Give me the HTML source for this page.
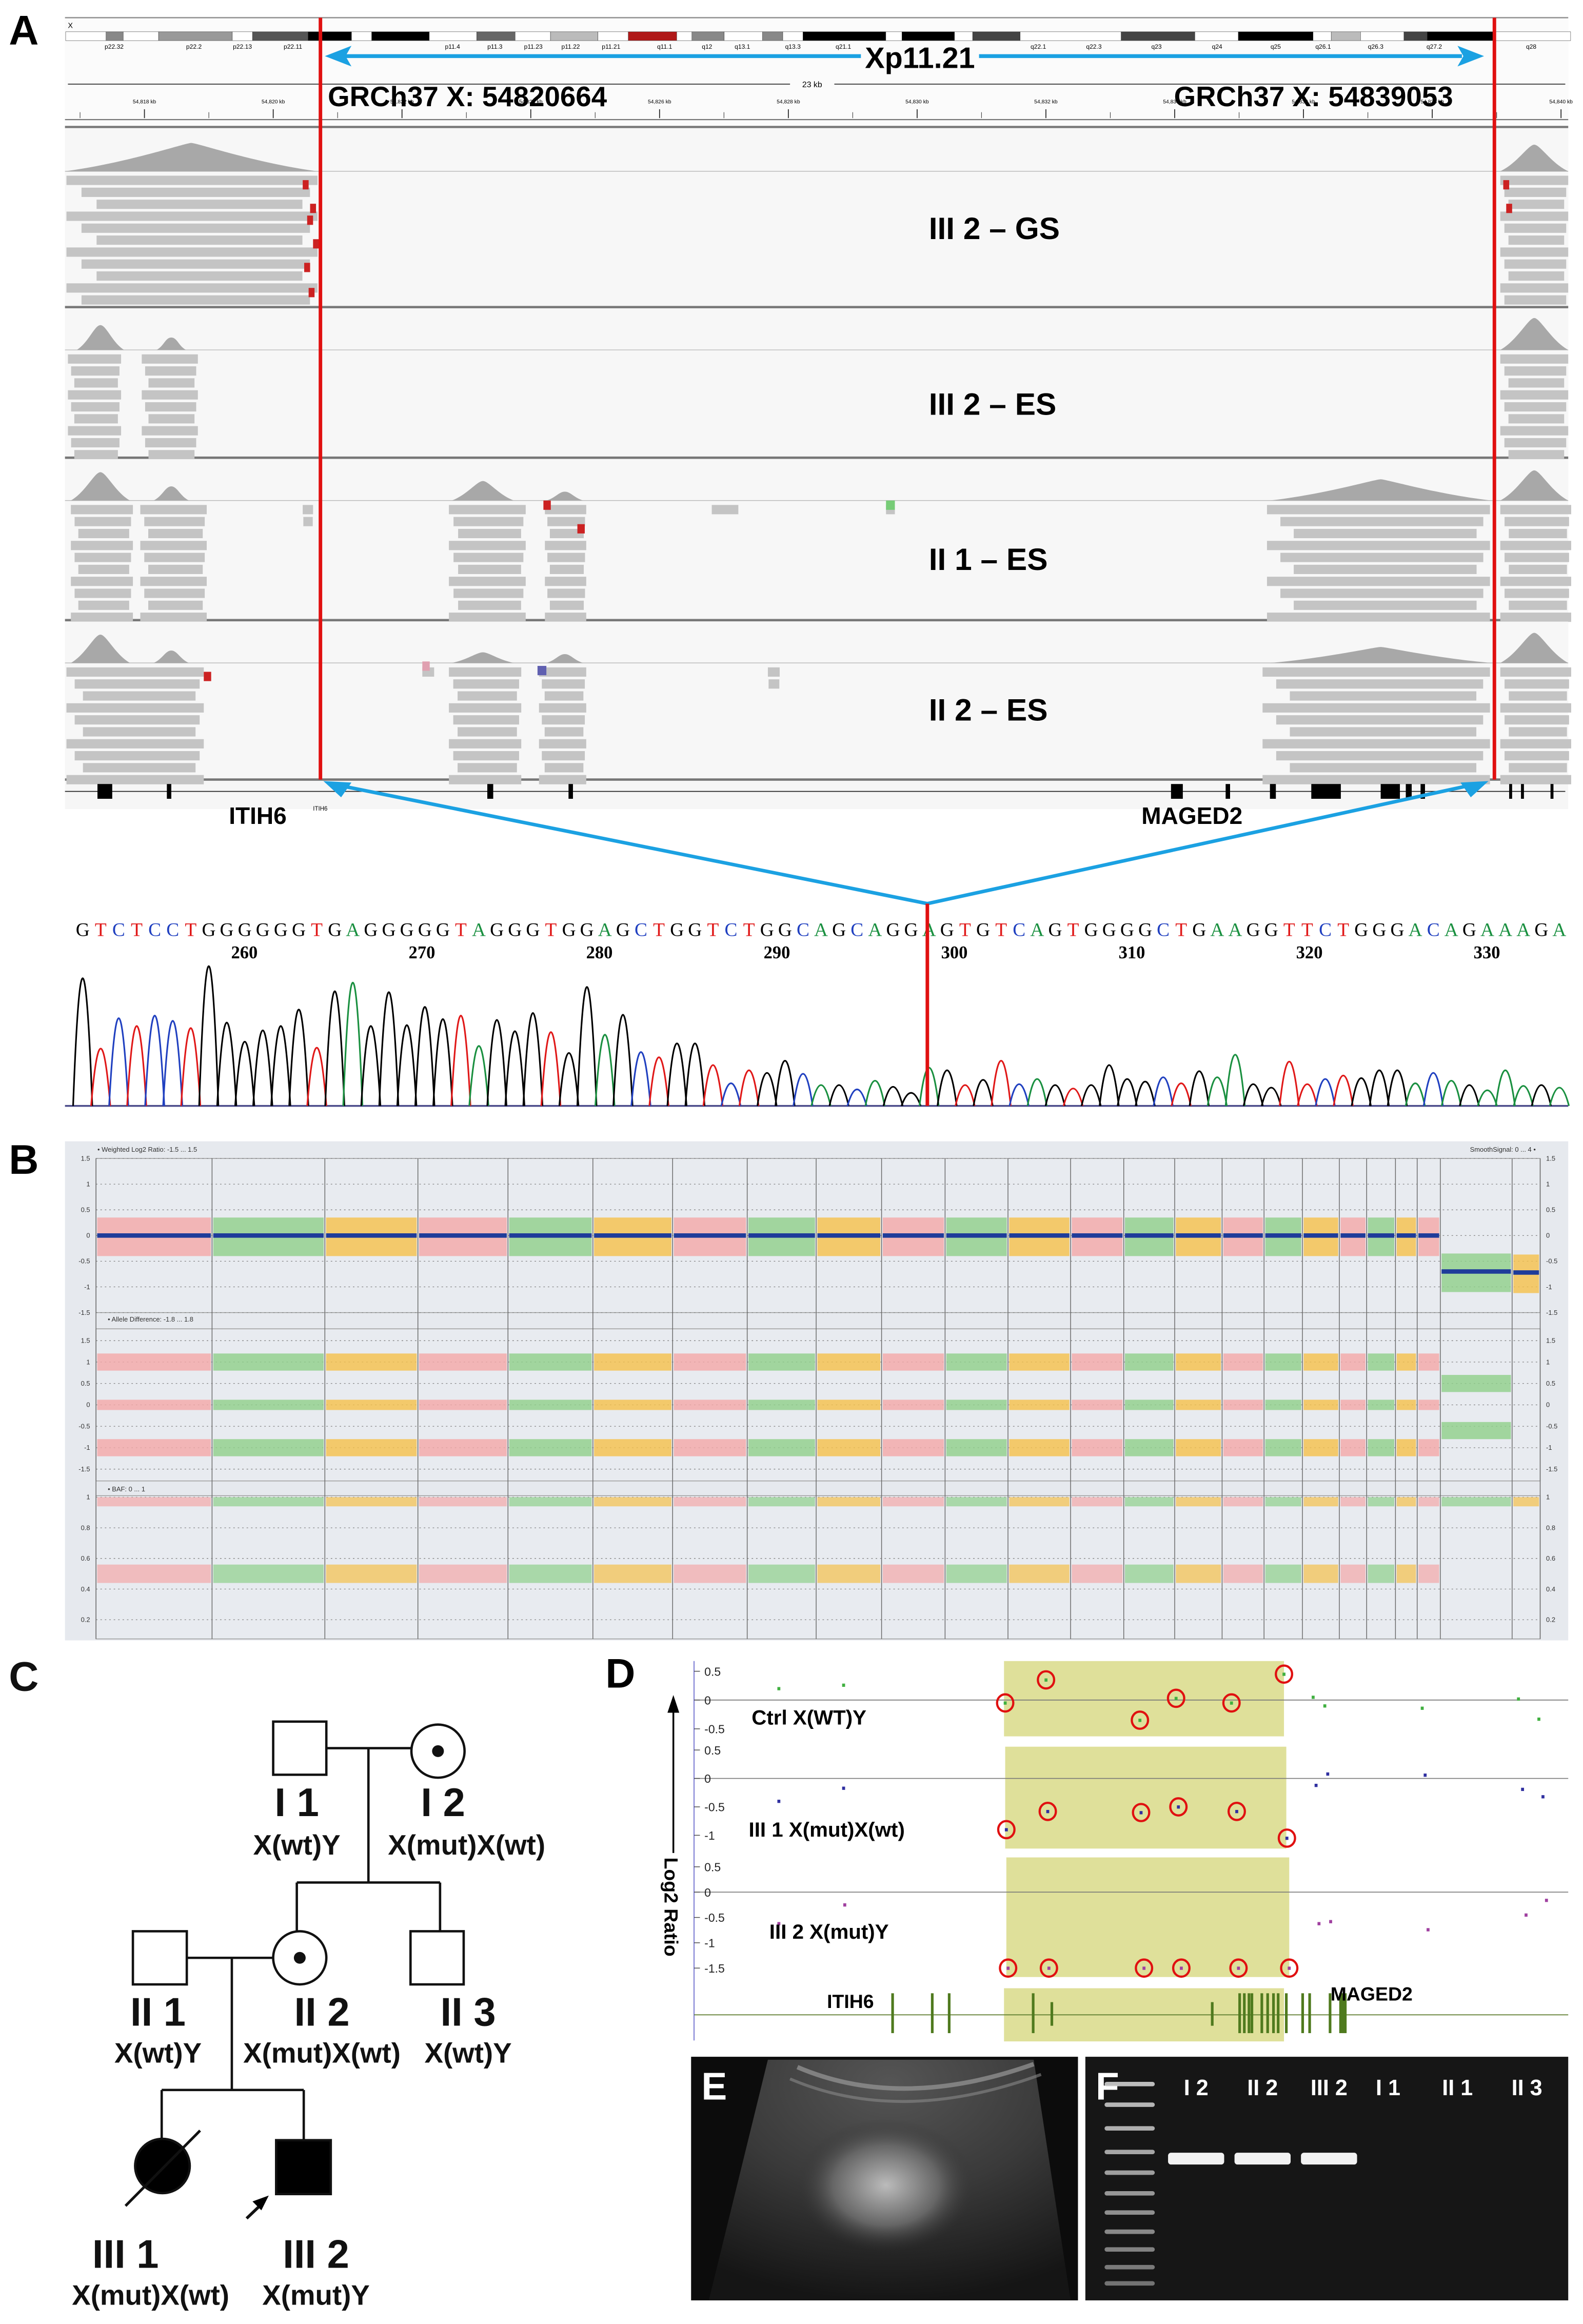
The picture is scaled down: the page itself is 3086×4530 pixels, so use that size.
<!DOCTYPE html>
<html><head><meta charset="utf-8">
<style>
html,body{margin:0;padding:0;background:#fff;}
svg{display:block;}
.lbl{font-family:"Liberation Sans",sans-serif;font-weight:bold;}
.nar{font-family:"Liberation Sans Narrow","Liberation Sans",sans-serif;font-weight:bold;}
</style></head>
<body>
<svg id="fig" width="3086" height="4530" viewBox="0 0 1072 1574" preserveAspectRatio="none" xmlns="http://www.w3.org/2000/svg">
<!-- PANEL A -->
<g id="panelA">
<text class="lbl" x="6" y="30" font-size="28">A</text>
<rect x="44" y="11" width="1018" height="537" fill="#f6f6f6"/>
<rect x="44" y="11" width="1018" height="75" fill="#fbfbfb"/>
<line x1="44" y1="12" x2="1062" y2="12" stroke="#888" stroke-width="0.8"/>
<text x="46" y="19" font-size="5" font-family="Liberation Sans">X</text>
<g id="ideo"></g>
<g id="bandLabels"></g>
<line x1="46" y1="57" x2="1060" y2="57" stroke="#333" stroke-width="0.6"/>
<rect x="535" y="53" width="30" height="8" fill="#fbfbfb"/>
<text x="550" y="59" font-size="5.5" text-anchor="middle" font-family="Liberation Sans">23 kb</text>
<g id="ruler"></g>
<line x1="44" y1="81" x2="1062" y2="81" stroke="#777" stroke-width="0.8"/>
<line x1="44" y1="86" x2="1062" y2="86" stroke="#777" stroke-width="1.5"/>
<g id="tracks"></g>
<line x1="44" y1="536" x2="1060" y2="536" stroke="#222" stroke-width="0.6"/>
<g id="exons"></g>
<text class="nar" x="629" y="162" font-size="21">III 2 – GS</text>
<text class="nar" x="629" y="281" font-size="21">III 2 – ES</text>
<text class="nar" x="629" y="386" font-size="21">II 1  – ES</text>
<text class="nar" x="629" y="488" font-size="21">II 2  – ES</text>
<line x1="217" y1="12" x2="217" y2="528" stroke="#e01010" stroke-width="2.4"/>
<line x1="1012" y1="12" x2="1012" y2="528" stroke="#e01010" stroke-width="2.4"/>
<rect x="583" y="29" width="80" height="18" fill="#fbfbfb"/>
<line x1="232" y1="38" x2="583" y2="38" stroke="#1ba1e2" stroke-width="2.6"/>
<polygon points="220,38 238,31 234,38 238,45" fill="#1ba1e2"/>
<line x1="663" y1="38" x2="990" y2="38" stroke="#1ba1e2" stroke-width="2.6"/>
<polygon points="1005,38 987,31 991,38 987,45" fill="#1ba1e2"/>
<text class="nar" x="623" y="46" font-size="20" text-anchor="middle">Xp11.21</text>
<text class="nar" x="222" y="72" font-size="19">GRCh37 X: 54820664</text>
<text class="nar" x="795" y="72" font-size="19">GRCh37 X: 54839053</text>
<text class="nar" x="155" y="558" font-size="16">ITIH6</text>
<text x="212" y="549" font-size="4" font-family="Liberation Sans">ITIH6</text>
<text class="nar" x="773" y="558" font-size="16">MAGED2</text>
<line x1="628" y1="612" x2="230" y2="532" stroke="#1ba1e2" stroke-width="2.4"/>
<polygon points="219,529 238,530 231,540" fill="#1ba1e2"/>
<line x1="628" y1="612" x2="995" y2="532" stroke="#1ba1e2" stroke-width="2.4"/>
<polygon points="1008,529 989,530 996,540" fill="#1ba1e2"/>
<g id="seq"></g>
<g id="seqnums"></g>
<line x1="44" y1="749" x2="1062" y2="749" stroke="#4a4a8a" stroke-width="1.2"/>
<g id="chromat"></g>
<line x1="628" y1="612" x2="628" y2="749" stroke="#e01010" stroke-width="2.4"/>
</g>

<!-- PANEL B -->
<g id="panelB">
<text class="lbl" x="6" y="795" font-size="28">B</text>
<rect x="44" y="773" width="1018" height="338" fill="#e6e9ee"/>
<text x="66" y="780" font-size="4.5" font-family="Liberation Sans" fill="#333">• Weighted Log2 Ratio: -1.5 ... 1.5</text>
<text x="1040" y="780" font-size="4.5" font-family="Liberation Sans" fill="#333" text-anchor="end">SmoothSignal: 0 ... 4 •</text>
<text x="73" y="895" font-size="4.5" font-family="Liberation Sans" fill="#333">• Allele Difference: -1.8 ... 1.8</text>
<text x="73" y="1010" font-size="4.5" font-family="Liberation Sans" fill="#333">• BAF: 0 ... 1</text>
<g id="cnv"></g>
</g>

<!-- PANEL C -->
<g id="panelC" stroke="#111" stroke-width="1.6" fill="none">
<text class="lbl" x="6" y="1145" font-size="28" stroke="none" fill="#111">C</text>
<rect x="185" y="1166" width="36" height="36" fill="#fff"/>
<circle cx="296.6" cy="1186" r="18" fill="#fff"/>
<circle cx="296.6" cy="1186" r="4" fill="#111" stroke="none"/>
<line x1="221" y1="1184" x2="278.6" y2="1184"/>
<line x1="249.5" y1="1184" x2="249.5" y2="1275"/>
<line x1="201" y1="1275" x2="298" y2="1275"/>
<line x1="201" y1="1275" x2="201" y2="1308"/>
<line x1="298" y1="1275" x2="298" y2="1308"/>
<rect x="90" y="1308" width="36.5" height="36" fill="#fff"/>
<circle cx="203" cy="1326" r="18" fill="#fff"/>
<circle cx="203" cy="1326" r="4" fill="#111" stroke="none"/>
<rect x="278" y="1308" width="36" height="36" fill="#fff"/>
<line x1="126.5" y1="1326" x2="185" y2="1326"/>
<line x1="157" y1="1326" x2="157" y2="1415.5"/>
<line x1="109.5" y1="1415.5" x2="205.7" y2="1415.5"/>
<line x1="109.5" y1="1415.5" x2="109.5" y2="1449"/>
<line x1="205.7" y1="1415.5" x2="205.7" y2="1449.5"/>
<ellipse cx="110" cy="1467" rx="18.5" ry="18.4" fill="#000"/>
<line x1="85" y1="1494" x2="135.5" y2="1443" stroke-width="1.8"/>
<rect x="187" y="1449.5" width="37" height="36.5" fill="#000"/>
<line x1="167" y1="1502.5" x2="178" y2="1492" stroke-width="2"/>
<polygon points="182,1487 171,1491 177,1497" fill="#000" stroke="none"/>
<g class="lbl" stroke="none" fill="#111" text-anchor="middle">
<text x="201" y="1230" font-size="27">I 1</text>
<text x="201" y="1256" font-size="19">X(wt)Y</text>
<text x="300" y="1230" font-size="27">I 2</text>
<text x="316" y="1256" font-size="19">X(mut)X(wt)</text>
<text x="107" y="1372" font-size="27">II 1</text>
<text x="107" y="1397" font-size="19">X(wt)Y</text>
<text x="218" y="1372" font-size="27">II 2</text>
<text x="218" y="1397" font-size="19">X(mut)X(wt)</text>
<text x="317" y="1372" font-size="27">II 3</text>
<text x="317" y="1397" font-size="19">X(wt)Y</text>
<text x="85" y="1536" font-size="27">III 1</text>
<text x="102" y="1561" font-size="19">X(mut)X(wt)</text>
<text x="214" y="1536" font-size="27">III 2</text>
<text x="214" y="1561" font-size="19">X(mut)Y</text>
</g>
</g>

<!-- PANEL D -->
<g id="panelD">
<text class="lbl" x="410" y="1143" font-size="28">D</text>
<line x1="470" y1="1125" x2="470" y2="1382" stroke="#6666cc" stroke-width="0.6"/>
<line x1="456" y1="1255" x2="456" y2="1158" stroke="#000" stroke-width="1.2"/>
<polygon points="456,1148 452,1160 460,1160" fill="#000"/>
<text class="lbl" x="0" y="0" font-size="13" transform="translate(450,1258) rotate(90)">Log2 Ratio</text>
<g id="dplot"></g>
</g>

<!-- PANEL E -->
<g id="panelE">
<rect x="468" y="1393" width="262" height="165" fill="#0c0c0c"/>
<defs>
<radialGradient id="usg" cx="0.5" cy="0.1" r="0.9">
<stop offset="0" stop-color="#555"/><stop offset="0.5" stop-color="#3a3a3a"/><stop offset="1" stop-color="#151515"/>
</radialGradient>
<radialGradient id="kid" cx="0.5" cy="0.5" r="0.5">
<stop offset="0" stop-color="#bbb"/><stop offset="0.6" stop-color="#666"/><stop offset="1" stop-color="#333" stop-opacity="0"/>
</radialGradient>
</defs>
<path d="M520,1395 L700,1395 L725,1558 L480,1558 Z" fill="url(#usg)"/>
<path d="M540,1400 Q610,1430 700,1398" stroke="#999" stroke-width="3" fill="none" opacity="0.7"/>
<path d="M535,1408 Q610,1440 705,1405" stroke="#888" stroke-width="2" fill="none" opacity="0.6"/>
<ellipse cx="600" cy="1480" rx="60" ry="45" fill="url(#kid)"/>
<text class="lbl" x="475" y="1422" font-size="26" fill="#fff">E</text>
</g>

<!-- PANEL F -->
<g id="panelF">
<rect x="735" y="1393" width="327" height="165" fill="#161616"/>
<text class="lbl" x="742" y="1422" font-size="26" fill="#fff">F</text>
<g id="gel"></g>
</g>
</svg>

<script>
var NS = "http://www.w3.org/2000/svg";
function mk(tag, attrs, parent) {
  var e = document.createElementNS(NS, tag);
  for (var k in attrs) e.setAttribute(k, attrs[k]);
  parent.appendChild(e);
  return e;
}

// ---------- Panel A: ideogram ----------
var ideoStarts = [65,105,122,157,230,250,305,348,368,425,472,510,545,592,622,670,685,717,755,775,795,877,893,945,963,1010,1110,1183,1226,1300,1318,1347,1390,1413,1480];
var ideoShades = ["#fff","#888","#fff","#999","#fff","#555","#000","#fff","#000","#fff","#666","#fff","#bbb","#fff","#b01818","#fff","#888","#fff","#888","#fff","#000","#fff","#000","#fff","#444","#fff","#444","#fff","#000","#fff","#bbb","#fff","#444","#000","#fff"];
var ideoEnd = 1555;
var ideoG = document.getElementById("ideo");
for (var i = 0; i < ideoStarts.length; i++) {
  var x1 = ideoStarts[i] * 0.684, x2 = (i + 1 < ideoStarts.length ? ideoStarts[i + 1] : ideoEnd) * 0.684;
  var ib = mk("rect", {x: x1, y: 21.5, width: x2 - x1, height: 6, fill: ideoShades[i], stroke: "#333", "stroke-width": 0.2}, ideoG);
  
  
}
var bandNames = ["p22.32","p22.2","p22.13","p22.11","p11.4","p11.3","p11.23","p11.22","p11.21","q11.1","q12","q13.1","q13.3","q21.1","q21.2","q21.32","q22.1","q22.3","q23","q24","q25","q26.1","q26.3","q27.2","q28"];
var bandLabelX = [113,192,240,290,448,490,528,565,605,658,700,735,785,835,885,955,1028,1083,1145,1205,1263,1310,1362,1420,1516];
var blG = document.getElementById("bandLabels");
for (var i = 0; i < bandNames.length; i++) {
  var t = mk("text", {x: bandLabelX[i] * 0.684, y: 33, "font-size": 4.2, "text-anchor": "middle", "font-family": "Liberation Sans"}, blG);
  t.textContent = bandNames[i];
  
  
}
var kbLabels = ["54,818 kb","54,820 kb","54,822 kb","54,824 kb","54,826 kb","54,828 kb","54,830 kb","54,832 kb","54,834 kb","54,836 kb","54,838 kb","54,840 kb"];
var rG = document.getElementById("ruler");
for (var i = 0; i < kbLabels.length; i++) {
  var x = (143 + i * 127.5) * 0.684;
  var t = mk("text", {x: x, y: 70, "font-size": 3.6, "text-anchor": "middle", "font-family": "Liberation Sans"}, rG);
  t.textContent = kbLabels[i];
  
  
  mk("line", {x1: x, y1: 74, x2: x, y2: 80, stroke: "#222", "stroke-width": 0.6}, rG);
  mk("line", {x1: x - 43.6, y1: 76, x2: x - 43.6, y2: 80, stroke: "#444", "stroke-width": 0.4}, rG);
}

// ---------- Panel A: alignment tracks ----------
var trackTops = [88, 209, 311, 421];
var trackBottoms = [207, 309, 419, 527];
var covH = 24;
var cov0 = [[44,215,0.8],[1016,1062,0.75]];
var cov1 = [[52,84,0.7],[106,126,0.35],[1016,1062,0.9]];
var cov2 = [[48,88,0.8],[104,128,0.4],[306,348,0.55],[370,395,0.25],[860,1010,0.6],[1016,1062,0.85]];
var cov3 = [[48,88,0.8],[104,128,0.35],[306,348,0.3],[370,395,0.25],[860,1010,0.45],[1016,1062,0.85]];
var covs = [cov0, cov1, cov2, cov3];
var reads0 = [[45,215,11],[1016,1062,11]];
var reads1 = [[46,82,9],[96,134,9],[1016,1062,9]];
var reads2 = [[48,90,10],[95,140,10],[205,212,2],[304,356,10],[369,397,10],[482,500,1],[600,606,1],[858,1009,10],[1016,1064,10]];
var reads3 = [[45,138,10],[286,294,1],[304,353,10],[365,397,10],[520,528,2],[855,1009,10],[1016,1064,10]];
var readSets = [reads0, reads1, reads2, reads3];
var tG = document.getElementById("tracks");
for (var k = 0; k < 4; k++) {
  var tTop = trackTops[k], tBot = trackBottoms[k];
  var bg = mk("rect", {x: 44, y: tTop, width: 1018, height: tBot - tTop, fill: "#f7f7f7"}, tG);
  
  
  mk("line", {x1: 44, y1: tBot + 1, x2: 1062, y2: tBot + 1, stroke: "#777", "stroke-width": 1.6}, tG);
  var cbase = tTop + covH + 4;
  mk("line", {x1: 44, y1: cbase, x2: 1062, y2: cbase, stroke: "#bbb", "stroke-width": 0.5}, tG);
  for (var ci = 0; ci < covs[k].length; ci++) {
    var c = covs[k][ci];
    var h = c[2] * covH;
    var mid = (c[0] + c[1]) / 2;
    var d = "M" + c[0] + "," + cbase + " C" + (c[0] + (mid - c[0]) * 0.5) + "," + (cbase - h * 0.3) + " " + (mid - 4) + "," + (cbase - h) + " " + mid + "," + (cbase - h) + " C" + (mid + 4) + "," + (cbase - h) + " " + (c[1] - (c[1] - mid) * 0.5) + "," + (cbase - h * 0.3) + " " + c[1] + "," + cbase + " Z";
    var p = mk("path", {d: d, fill: "#a8a8a8"}, tG);
    
    
  }
  for (var bi = 0; bi < readSets[k].length; bi++) {
    var rb = readSets[k][bi];
    var y0 = cbase + 3;
    for (var rw = 0; rw < rb[2]; rw++) {
      var shrink = (rb[1] - rb[0]) * 0.06 * (rw % 3);
      var rr = mk("rect", {x: rb[0] + shrink, y: y0 + rw * 8.1, width: Math.max(3, rb[1] - rb[0] - shrink * 1.5), height: 6.3, fill: "#c4c4c4"}, tG);
      
      
    }
  }
}
var accentX = [205,210,208,212,1018,1020,206,209];
var accentY = [122,138,146,162,122,138,178,195];
for (var i = 0; i < accentX.length; i++) mk("rect", {x: accentX[i], y: accentY[i], width: 4, height: 6.3, fill: "#cc2222"}, tG);
mk("rect", {x: 368, y: 339, width: 5, height: 6.3, fill: "#cc2222"}, tG);
mk("rect", {x: 391, y: 355, width: 5, height: 6.3, fill: "#cc2222"}, tG);
mk("rect", {x: 600, y: 339, width: 6, height: 6.3, fill: "#77cc77"}, tG);
mk("rect", {x: 364, y: 451, width: 6, height: 6.3, fill: "#6060b0"}, tG);
mk("rect", {x: 138, y: 455, width: 5, height: 6.3, fill: "#cc2222"}, tG);
mk("rect", {x: 286, y: 448, width: 5, height: 6.3, fill: "#e0a0b0"}, tG);

var exonX = [66,113,330,385,793,830,860,888,935,952,962,1022,1030,1050];
var exonW = [10,3,4,3,8,3,4,20,13,4,3,2,2,2];
var eG = document.getElementById("exons");
for (var i = 0; i < exonX.length; i++) {
  var ex = mk("rect", {x: exonX[i], y: 531, width: exonW[i], height: 10, fill: "#000"}, eG);
  
  
}

// ---------- Panel A: sequence + chromatogram ----------
var sequence = "GTCTCCTGGGGGGTGAGGGGGTAGGGTGGAGCTGGTCTGGCAGCAGGAGTGTCAGTGGGGCTGAAGGTTCTGGGACAGAAAGA";
var peakHeights = [735,330,505,460,520,490,448,805,480,370,435,460,555,335,660,710,460,655,465,570,500,520,345,495,430,535,425,305,685,410,525,310,280,360,360,235,130,205,190,260,185,120,120,95,145,110,75,220,205,120,150,260,125,155,120,100,120,235,155,140,165,130,200,165,295,125,105,255,125,155,175,160,205,205,130,190,145,120,90,205,115,120,105,190];
var posLabels = [260,270,280,290,300,310,320,330];
var baseColors = {G: "#000", T: "#e01818", C: "#2040c0", A: "#1a9040"};
var seqX0 = 56, seqStep = 1000 / (sequence.length - 1);
function seqX(i) { return seqX0 + i * seqStep; }
function peakY(v) { return 749 - v * 0.1176; }
var sG = document.getElementById("seq");
for (var i = 0; i < sequence.length; i++) {
  var t = mk("text", {x: seqX(i), y: 634, "font-size": 13, "text-anchor": "middle", "font-family": "Liberation Serif", fill: baseColors[sequence[i]]}, sG);
  t.textContent = sequence[i];
  
  
}
var nG = document.getElementById("seqnums");
for (var i = 0; i < posLabels.length; i++) {
  var t = mk("text", {x: 165.5 + i * 120.2, y: 649, "font-size": 12, "font-weight": "bold", "text-anchor": "middle", "font-family": "Liberation Serif"}, nG);
  t.textContent = posLabels[i];
  
  
}
var cG = document.getElementById("chromat");
var nPeaks = Math.min(peakHeights.length, sequence.length);
for (var i = 0; i < nPeaks; i++) {
  var x = seqX(i), yt = peakY(peakHeights[i]);
  var ctrl = 749 - (749 - yt) * 2;
  var p = mk("path", {d: "M" + (x - 6.5) + ",749 Q" + x + "," + ctrl + " " + (x + 6.5) + ",749", fill: "none", stroke: baseColors[sequence[i]], "stroke-width": 1.1}, cG);
  
  
}

// ---------- Panel B: CNV ----------
var chromBounds = [65,143.6,220,283,344,401.5,455.5,506,552.7,597,640,682.6,725,761,795.5,827.6,856,882,907,925.5,945,959.7,975.4,1024,1043];
var chromColors = ["#f4a8a8","#8fd08a","#f5c04a"];
var log2Means = [0,0,0,0,0,0,0,0,0,0,0,0,0,0,0,0,0,0,0,0,0,0,-0.7,-0.72];
var alleleLevels = [1,0,-1];
var xAlleleLevels = [0.5,-0.6];
var bafLevels = [1,0.5];
var log2Ticks = [1.5,1,0.5,0,-0.5,-1,-1.5];
var alleleTicks = [1.5,1,0.5,0,-0.5,-1,-1.5];
var bafTicks = [1,0.8,0.6,0.4,0.2];
function yLog2(v) { return 836.8 - v * 34.8; }
function yAllele(v) { return 951.5 - v * 29; }
function yBaf(v) { return 1014 + (1 - v) * 103.75; }
var bG = document.getElementById("cnv");
var panels = [[784.6, 889], [900, 1003], [1013, 1110]];
panels.forEach(function (pp) {
  var fr = mk("rect", {x: 65, y: pp[0], width: 978, height: pp[1] - pp[0], fill: "#e8ebf0", stroke: "#999", "stroke-width": 0.5}, bG);
  
  
});
function tickRow(vals, yf, lab) {
  vals.forEach(function (v) {
    var y = yf(v);
    mk("line", {x1: 65, y1: y, x2: 1043, y2: y, stroke: "#777", "stroke-width": 0.4, "stroke-dasharray": "1,2"}, bG);
    var t = mk("text", {x: 61, y: y + 1.5, "font-size": 4.5, "text-anchor": "end", "font-family": "Liberation Sans", fill: "#333"}, bG);
    t.textContent = v;
    
    
    var t2 = mk("text", {x: 1047, y: y + 1.5, "font-size": 4.5, "font-family": "Liberation Sans", fill: "#333"}, bG);
    t2.textContent = v;
    
    
  });
}
tickRow(log2Ticks, yLog2, 'log2-tick');
tickRow(alleleTicks, yAllele, 'allele-tick');
tickRow(bafTicks, yBaf, 'baf-tick');
for (var c = 0; c < chromBounds.length - 1; c++) {
  var x1 = chromBounds[c] + 0.8, x2 = chromBounds[c + 1] - 0.8, col = chromColors[c % 3];
  var isX = c >= 22;
  var m = log2Means[c];
  var r1 = mk("rect", {x: x1, y: yLog2(m + 0.35), width: x2 - x1, height: yLog2(m - 0.4) - yLog2(m + 0.35), fill: col, opacity: 0.8}, bG);
  
  
  var ln = mk("rect", {x: x1, y: yLog2(m) - 1.5, width: x2 - x1, height: 3, fill: "#1f3c9a"}, bG);
  
  
  var lev = isX ? (c === 22 ? xAlleleLevels : []) : alleleLevels;
  lev.forEach(function (v) {
    var h = v === 0 ? 0.12 : 0.2;
    var r = mk("rect", {x: x1, y: yAllele(v + h), width: x2 - x1, height: yAllele(v - h) - yAllele(v + h), fill: col, opacity: 0.8}, bG);
    
    
  });
  var bl = isX ? [1] : bafLevels;
  bl.forEach(function (v) {
    var y1 = v === 1 ? yBaf(1) : yBaf(v + 0.06);
    var y2 = v === 1 ? yBaf(0.94) : yBaf(v - 0.06);
    var r = mk("rect", {x: x1, y: y1, width: x2 - x1, height: y2 - y1, fill: col, opacity: 0.7}, bG);
    
    
  });
}
chromBounds.forEach(function (b) {
  var l = mk("line", {x1: b, y1: 784.6, x2: b, y2: 1110, stroke: "#666", "stroke-width": 0.5}, bG);
  
  
});

// ---------- Panel D ----------
var dXs = [192,303,580,650,811,873,968,1058,1108,1128,1295,1460,1495];
var ctrlVals = [0.2,0.26,-0.05,0.35,-0.35,0.03,-0.05,0.45,0.05,-0.1,-0.14,0.02,-0.33];
var iii1Xs = [192,303,582,653,813,877,977,1063,1113,1133,1300,1467,1502];
var iii1Vals = [-0.4,-0.17,-0.9,-0.58,-0.6,-0.5,-0.58,-1.05,-0.12,0.08,0.06,-0.19,-0.32];
var iii2Xs = [192,305,585,655,818,882,980,1067,1118,1138,1305,1473,1508];
var iii2Vals = [-0.62,-0.25,-1.5,-1.5,-1.5,-1.5,-1.5,-1.5,-0.62,-0.58,-0.74,-0.45,-0.16];
var circled = [2,3,4,5,6,7];
var geneBarsX = [387,455,484,628,660,935,982,990,998,1003,1020,1030,1040,1048,1062,1090,1102,1137,1155,1160];
function dx(zx) { return 451.6 + zx * 0.395; }
var dPanels = [
  {zero: 1151.4, unit: 39, xs: dXs, vals: ctrlVals, color: "#40b040", box: [578, 1058, 1125, 1176], label: "Ctrl  X(WT)Y", lx: 509, ly: 1168, ticks: [0.5, 0, -0.5]},
  {zero: 1204.5, unit: 38.5, xs: iii1Xs, vals: iii1Vals, color: "#3030a0", box: [580, 1062, 1183, 1252], label: "III 1 X(mut)X(wt)", lx: 507, ly: 1244, ticks: [0.5, 0, -0.5, -1]},
  {zero: 1281.5, unit: 34.3, xs: iii2Xs, vals: iii2Vals, color: "#a040a0", box: [582, 1067, 1258, 1339], label: "III 2 X(mut)Y", lx: 521, ly: 1313, ticks: [0.5, 0, -0.5, -1, -1.5]}
];
var dG = document.getElementById("dplot");
dPanels.forEach(function (P) {
  var bx = mk("rect", {x: dx(P.box[0]), y: P.box[2], width: dx(P.box[1]) - dx(P.box[0]), height: P.box[3] - P.box[2], fill: "#dfe09a"}, dG);
  
  
  mk("line", {x1: 470, y1: P.zero, x2: 1062, y2: P.zero, stroke: "#777", "stroke-width": 0.6}, dG);
  P.ticks.forEach(function (v) {
    var y = P.zero - v * P.unit;
    mk("line", {x1: 470, y1: y, x2: 474, y2: y, stroke: "#444", "stroke-width": 0.5}, dG);
    var t = mk("text", {x: 477, y: y + 3, "font-size": 8, "font-family": "Liberation Sans Narrow, Liberation Sans", fill: "#222"}, dG);
    t.textContent = String(v);
    
    
  });
  for (var i = 0; i < P.xs.length; i++) {
    var x = dx(P.xs[i]), y = P.zero - P.vals[i] * P.unit;
    var pt = mk("rect", {x: x - 1, y: y - 1, width: 2, height: 2.2, fill: P.color}, dG);
    
    
    if (circled.indexOf(i) >= 0) {
      var ce = mk("ellipse", {cx: x, cy: y, rx: 5.5, ry: 5.8, fill: "none", stroke: "#e01010", "stroke-width": 1.5}, dG);
      
      
    }
  }
  var lt = mk("text", {x: P.lx, y: P.ly, "font-size": 14, "font-family": "Liberation Sans Narrow, Liberation Sans", "font-weight": "bold"}, dG);
  lt.textContent = P.label;
  
  
});
var gb = mk("rect", {x: dx(578), y: 1346.6, width: dx(1058) - dx(578), height: 36, fill: "#dfe09a"}, dG);


mk("line", {x1: 470, y1: 1364.6, x2: 1062, y2: 1364.6, stroke: "#5a7a2a", "stroke-width": 0.6}, dG);
geneBarsX.forEach(function (gx) {
  var short = (gx === 660 || gx === 935);
  var b = mk("rect", {x: dx(gx) - 0.9, y: short ? 1356 : 1350, width: gx === 1155 ? 5 : 1.8, height: short ? 16 : 27, fill: "#4f7a1e"}, dG);
  
  
});
var g1 = mk("text", {x: 560, y: 1360, "font-size": 13, "font-family": "Liberation Sans Narrow, Liberation Sans", "font-weight": "bold"}, dG);
g1.textContent = "ITIH6";


var g2 = mk("text", {x: 901, y: 1355, "font-size": 13, "font-family": "Liberation Sans Narrow, Liberation Sans", "font-weight": "bold"}, dG);
g2.textContent = "MAGED2";



// ---------- Panel F: gel ----------
var laneNames = ["I 2","II 2","III 2","I 1","II 1","II 3"];
var laneX = [810,855,900,940,987,1034];
var laneBand = [1,1,1,0,0,0];
var ladderY = [1410,1424,1440,1456,1470,1484,1497,1510,1522,1534,1545];
var fG = document.getElementById("gel");
ladderY.forEach(function (y, i) {
  var l = mk("rect", {x: 748, y: y, width: 34, height: 3, rx: 1.5, fill: "#cfcfcf", opacity: 0.9 - i * 0.04}, fG);
  
  
});
for (var i = 0; i < laneNames.length; i++) {
  var t = mk("text", {x: laneX[i], y: 1419, "font-size": 15, "font-weight": "bold", "text-anchor": "middle", "font-family": "Liberation Sans Narrow, Liberation Sans", fill: "#fff"}, fG);
  t.textContent = laneNames[i];
  
  
  if (laneBand[i]) {
    var b = mk("rect", {x: laneX[i] - 19, y: 1458, width: 38, height: 8, rx: 2, fill: "#f2f2f2"}, fG);
    
    
  }
}
</script>
</body></html>
